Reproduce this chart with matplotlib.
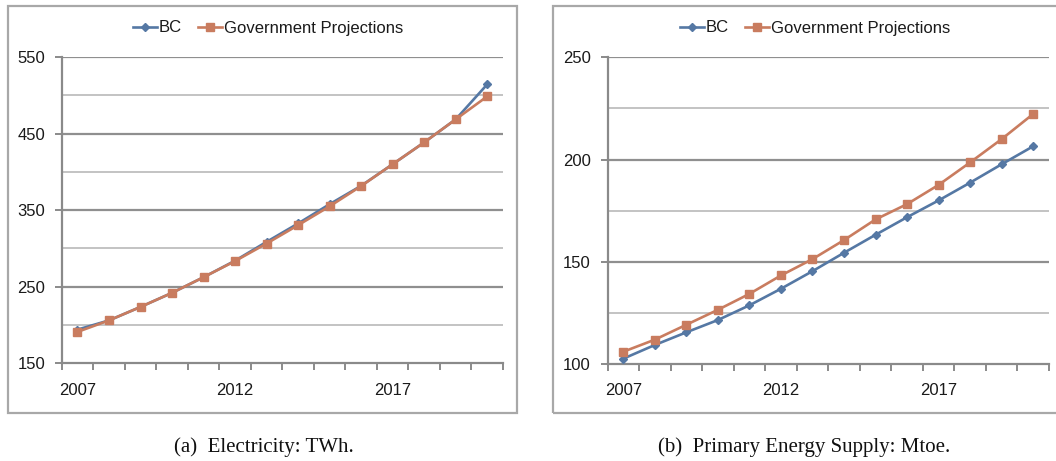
import matplotlib
matplotlib.use("Agg")
import matplotlib.pyplot as plt
from matplotlib.patches import Rectangle
import numpy as np

years = list(range(2007, 2021))
year_labels = ["2007", "2012", "2017"]

elec_bc = [194, 206, 223.6, 242, 262.4, 284, 308.6, 332.6, 357.8, 381.8, 410, 438.5, 468.6, 514.3]
elec_gov = [191, 206, 223.6, 242, 262.4, 283.5, 306.4, 330.4, 355, 381.5, 410, 438.5, 468.6, 498.6]

pes_bc = [102.6, 109.3, 115.5, 121.5, 128.7, 136.8, 145.4, 154.4, 163.2, 171.8, 180, 188.7, 197.7, 206.5]
pes_gov = [106, 111.9, 119.2, 126.5, 134.3, 143.3, 151.3, 160.6, 170.7, 178.2, 187.6, 198.6, 210, 222.3]

series_names = ["BC", "Government Projections"]
captions = ["(a)  Electricity: TWh.", "(b)  Primary Energy Supply: Mtoe."]

W, H = 1056, 461
DPI = 100
fig = plt.figure(figsize=(W / DPI, H / DPI), dpi=DPI)

BC_COL = "#5578A4"
GOV_COL = "#C97C5F"
GRID_MAJ = "#8F8F8F"
GRID_MIN = "#C3C3C3"
AXIS_COL = "#8A8A8A"
FRAME_COL = "#A8A8A8"
SANS = ["Liberation Sans", "DejaVu Sans"]
SERIF = ["Liberation Serif", "DejaVu Serif"]


def px_rect(x0, x1, ytop, ybot):
    return [x0 / W, 1 - ybot / H, (x1 - x0) / W, (ybot - ytop) / H]


def panel(rect_px, frame_px, bc, gov, ylim, major, minor, legend_cx, caption, caption_cx):
    fx0, fx1, fy0, fy1 = frame_px
    fig.patches.append(Rectangle((fx0 / W, 1 - fy1 / H), (fx1 - fx0) / W, (fy1 - fy0) / H,
                                 transform=fig.transFigure, fill=False, edgecolor=FRAME_COL,
                                 linewidth=1.6, zorder=0))
    ax = fig.add_axes(px_rect(*rect_px))
    ax.set_facecolor("none")
    x = np.arange(len(years))
    l1, = ax.plot(x, bc, color=BC_COL, lw=1.9, marker="D", ms=3.8, mfc=BC_COL, mec=BC_COL,
                  label=series_names[0], zorder=3, clip_on=False)
    l2, = ax.plot(x, gov, color=GOV_COL, lw=1.9, marker="s", ms=6.0, mfc=GOV_COL, mec=GOV_COL,
                  label=series_names[1], zorder=4, clip_on=False)
    ax.set_xlim(-0.5, len(years) - 0.5)
    ax.set_ylim(*ylim)
    for v in major:
        if v != ylim[0]:
            ax.axhline(v, color=GRID_MAJ, lw=1.6, zorder=1)
    for v in minor:
        ax.axhline(v, color=GRID_MIN, lw=1.4, zorder=1)
    ax.set_yticks(major)
    ax.set_yticklabels([str(v) for v in major])
    ax.tick_params(axis="y", which="major", length=5, width=1.4, color=AXIS_COL, pad=7,
                   labelsize=12, labelcolor="#1a1a1a")
    ax.set_xticks([0, 5, 10])
    ax.set_xticklabels(year_labels)
    ax.set_xticks(np.arange(-0.5, len(years), 1.0), minor=True)
    ax.tick_params(axis="x", which="major", length=0, pad=14, labelsize=12, labelcolor="#1a1a1a")
    ax.tick_params(axis="x", which="minor", length=5, width=1.4, color=AXIS_COL)
    for lab in ax.get_xticklabels() + ax.get_yticklabels():
        lab.set_fontfamily(SANS)
    for s in ["top", "right"]:
        ax.spines[s].set_visible(False)
    for s in ["left", "bottom"]:
        ax.spines[s].set_color(AXIS_COL)
        ax.spines[s].set_linewidth(1.6)
        ax.spines[s].set_zorder(2)
    leg = fig.legend(handles=[l1, l2], loc="center", bbox_to_anchor=(legend_cx / W, 1 - 28 / H),
                     ncol=2, frameon=False, handlelength=1.45, handletextpad=0.1,
                     columnspacing=1.0, prop={"family": SANS, "size": 12})
    for t in leg.get_texts():
        t.set_color("#1a1a1a")
    fig.text(caption_cx / W, 1 - 447 / H, caption, ha="center", va="center",
             fontfamily=SERIF, fontsize=15, color="#111111")
    return ax


panel((61.7, 503, 57, 363.3), (8, 517, 6, 413), elec_bc, elec_gov, (150, 550),
      [150, 250, 350, 450, 550], [200, 300, 400, 500], 268, captions[0], 264)
panel((607.5, 1049, 57.3, 364), (553.3, 1080, 6, 413), pes_bc, pes_gov, (100, 250),
      [100, 150, 200, 250], [125, 175, 225], 815, captions[1], 804)

fig.savefig("out.png", dpi=DPI, facecolor="white")
